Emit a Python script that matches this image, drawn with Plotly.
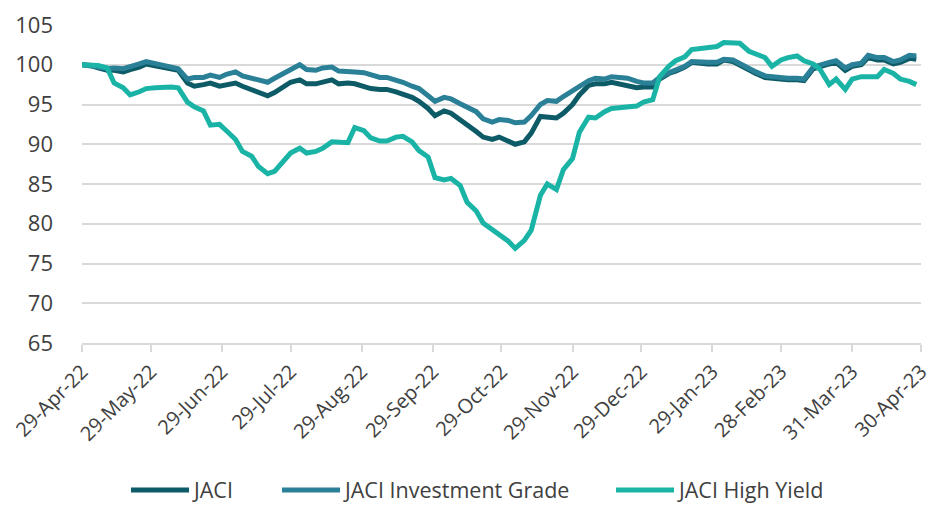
import plotly.graph_objects as go

dates = [
    "2022-04-29", "2022-05-03", "2022-05-06", "2022-05-10", "2022-05-13", "2022-05-17", "2022-05-20",
    "2022-05-24", "2022-05-27", "2022-05-31", "2022-06-03", "2022-06-07", "2022-06-10", "2022-06-14",
    "2022-06-17", "2022-06-21", "2022-06-24", "2022-06-28", "2022-07-01", "2022-07-05", "2022-07-08",
    "2022-07-12", "2022-07-15", "2022-07-19", "2022-07-22", "2022-07-26", "2022-07-29", "2022-08-02",
    "2022-08-05", "2022-08-09", "2022-08-12", "2022-08-16", "2022-08-19", "2022-08-23", "2022-08-26",
    "2022-08-30", "2022-09-02", "2022-09-06", "2022-09-09", "2022-09-13", "2022-09-16", "2022-09-20",
    "2022-09-23", "2022-09-27", "2022-09-30", "2022-10-04", "2022-10-07", "2022-10-11", "2022-10-14",
    "2022-10-18", "2022-10-21", "2022-10-25", "2022-10-28", "2022-11-01", "2022-11-04", "2022-11-08",
    "2022-11-11", "2022-11-15", "2022-11-18", "2022-11-22", "2022-11-25", "2022-11-29", "2022-12-02",
    "2022-12-06", "2022-12-09", "2022-12-13", "2022-12-16", "2022-12-20", "2022-12-23", "2022-12-27",
    "2022-12-30", "2023-01-03", "2023-01-06", "2023-01-10", "2023-01-13", "2023-01-17", "2023-01-20",
    "2023-01-24", "2023-01-27", "2023-01-31", "2023-02-03", "2023-02-07", "2023-02-10", "2023-02-14",
    "2023-02-17", "2023-02-21", "2023-02-24", "2023-02-28", "2023-03-03", "2023-03-07", "2023-03-10",
    "2023-03-14", "2023-03-17", "2023-03-21", "2023-03-24", "2023-03-28", "2023-03-31", "2023-04-04",
    "2023-04-07", "2023-04-11", "2023-04-14", "2023-04-18", "2023-04-21", "2023-04-25", "2023-04-28",
]

jaci = [
    100, 99.9, 99.6, 99.3, 99.3, 99.1, 99.4, 99.7, 100.1, 99.9, 99.7, 99.5, 99.3, 97.7, 97.3,
    97.5, 97.7, 97.3, 97.5, 97.7, 97.3, 96.9, 96.5, 96.1, 96.5, 97.3, 97.8, 98.1, 97.6, 97.6,
    97.8, 98.1, 97.6, 97.7, 97.6, 97.2, 97.0, 96.9, 96.9, 96.6, 96.3, 95.9, 95.4, 94.5, 93.6,
    94.2, 93.9, 93.1, 92.5, 91.6, 90.9, 90.6, 90.9, 90.3, 90.0, 90.3, 91.4, 93.5, 93.4, 93.3,
    93.9, 95.0, 96.2, 97.4, 97.6, 97.6, 97.8, 97.6, 97.3, 97.1, 97.2, 97.2, 98.2, 98.9, 99.2,
    99.7, 100.3, 100.1, 100.1, 100.1, 100.6, 100.4, 99.9, 99.3, 98.9, 98.4, 98.3, 98.3, 98.1, 98.1,
    98.0, 99.5, 99.8, 100.1, 100.3, 99.3, 99.8, 100.0, 100.9, 100.6, 100.6, 100.1, 100.3, 100.8, 100.7,
]

jaci_ig = [
    100, 99.9, 99.7, 99.5, 99.6, 99.5, 99.7, 100.1, 100.4, 100.2, 99.9, 99.7, 99.5, 98.2, 98.4,
    98.4, 98.7, 98.4, 98.8, 99.1, 98.6, 98.3, 98.1, 97.8, 98.3, 98.9, 99.4, 100.0, 99.4, 99.3,
    99.6, 99.7, 99.2, 99.2, 99.1, 99.0, 98.7, 98.4, 98.4, 98.1, 97.8, 97.3, 97.0, 96.1, 95.4,
    95.9, 95.7, 95.1, 94.6, 94.1, 93.2, 92.8, 93.1, 93.0, 92.7, 92.8, 93.6, 95.0, 95.5, 95.4,
    96.0, 96.7, 97.3, 98.0, 98.3, 98.2, 98.5, 98.4, 98.3, 97.9, 97.7, 97.7, 98.4, 99.0, 99.3,
    99.8, 100.4, 100.3, 100.3, 100.3, 100.7, 100.6, 100.1, 99.5, 99.1, 98.6, 98.5, 98.5, 98.3, 98.3,
    98.2, 99.7, 100.0, 100.3, 100.5, 99.6, 100.0, 100.2, 101.2, 100.9, 100.9, 100.4, 100.6, 101.2, 101.1,
]

jaci_hy = [
    100, 100, 99.9, 99.6, 97.7, 97.1, 96.2, 96.6, 97.0, 97.1, 97.2, 97.2, 97.1, 95.3, 94.7,
    94.2, 92.4, 92.5, 91.7, 90.6, 89.1, 88.5, 87.2, 86.3, 86.6, 87.8, 88.9, 89.5, 88.9, 89.1,
    89.5, 90.3, 90.2, 90.2, 92.1, 91.7, 90.8, 90.4, 90.4, 90.9, 91.0, 90.3, 89.2, 88.4, 85.8,
    85.5, 85.7, 84.8, 82.7, 81.6, 80.1, 79.2, 78.6, 77.8, 76.9, 77.9, 79.2, 83.6, 85.0, 84.3,
    86.8, 88.2, 91.5, 93.4, 93.3, 94.1, 94.5, 94.6, 94.7, 94.8, 95.3, 95.6, 98.5, 99.8, 100.5,
    101.0, 101.9, 102.1, 102.2, 102.3, 102.8, 102.8, 102.7, 101.7, 101.4, 100.9, 99.8, 100.6, 100.9, 101.1,
    100.5, 100.1, 99.4, 97.5, 98.2, 96.9, 98.2, 98.5, 98.5, 98.5, 99.4, 98.9, 98.2, 97.9, 97.5,
]

tick_dates = [
    "2022-04-29", "2022-05-29", "2022-06-29", "2022-07-29", "2022-08-29", "2022-09-29", "2022-10-29",
    "2022-11-29", "2022-12-29", "2023-01-29", "2023-02-28", "2023-03-31", "2023-04-30",
]
tick_labels = [
    "29-Apr-22", "29-May-22", "29-Jun-22", "29-Jul-22", "29-Aug-22", "29-Sep-22", "29-Oct-22",
    "29-Nov-22", "29-Dec-22", "29-Jan-23", "28-Feb-23", "31-Mar-23", "30-Apr-23",
]
y_ticks = [65, 70, 75, 80, 85, 90, 95, 100, 105]

series_names = ["JACI", "JACI Investment Grade", "JACI High Yield"]
series_values = [jaci, jaci_ig, jaci_hy]
series_colors = ["#0d5b66", "#2a8096", "#1ab4a6"]
legend_ids = ["legend", "legend2", "legend3"]
legend_x = [126, 277, 611]  # left edge of each legend entry, in pixels

font_family = "Open Sans, sans-serif"
W, H = 933, 505

fig = go.Figure()
for name, vals, color, lg in zip(series_names, series_values, series_colors, legend_ids):
    fig.add_trace(go.Scatter(
        x=dates, y=vals, name=name, mode="lines", legend=lg,
        line=dict(color=color, width=5, shape="linear"),
    ))

legend_common = dict(
    orientation="h", xref="container", yref="container",
    xanchor="left", yanchor="middle", y=(H - 490) / H,
    font=dict(size=21.5, color="#404040", family=font_family),
    itemwidth=58, bgcolor="rgba(0,0,0,0)",
)
layout_legends = {
    lg: dict(legend_common, x=lx / W) for lg, lx in zip(legend_ids, legend_x)
}

fig.update_layout(
    width=W, height=H,
    margin=dict(l=82, r=12, t=25, b=162, autoexpand=False),
    paper_bgcolor="white", plot_bgcolor="white",
    font=dict(family=font_family, color="#404040"),
    showlegend=True,
    xaxis=dict(
        type="date", automargin=False,
        range=["2022-04-29", "2023-04-30 01:00"],
        tickmode="array", tickvals=tick_dates, ticktext=tick_labels,
        tickangle=-45, tickfont=dict(size=20),
        ticklabeloverflow="allow",
        showgrid=False, zeroline=False,
        showline=True, linecolor="#d9d9d9", linewidth=2,
        ticks="outside", ticklen=7, tickwidth=2, tickcolor="#d9d9d9",
    ),
    yaxis=dict(
        range=[65, 105], tickvals=y_ticks, automargin=False,
        tickfont=dict(size=22),
        showgrid=True, gridcolor="#d9d9d9", gridwidth=2,
        zeroline=False, showline=False, ticks="",
        ticklabelstandoff=28,
    ),
    **layout_legends,
)

fig.write_html(
    "out.html",
    config={"displayModeBar": False},
    post_script="document.body.style.margin='0';document.body.style.overflow='hidden';",
)
